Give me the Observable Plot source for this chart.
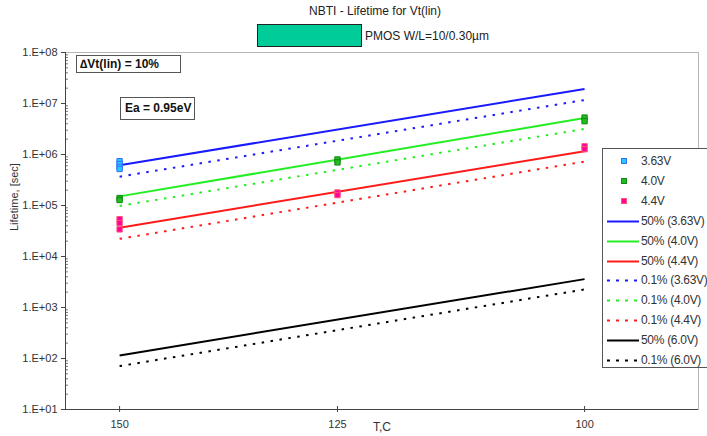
<!DOCTYPE html>
<html>
<head>
<meta charset="utf-8">
<script src="https://cdn.jsdelivr.net/npm/d3@7"></script>
<script src="https://cdn.jsdelivr.net/npm/@observablehq/plot@0.6"></script>
<style>
  html, body { margin: 0; padding: 0; background: #fff; }
  #wrap { position: relative; width: 707px; height: 436px; overflow: hidden; font-family: "Liberation Sans", Arial, sans-serif; color: #333; }
  #wrap svg.plot { position: absolute; left: 0; top: 0; }
  .ov { position: absolute; white-space: nowrap; }
  .box { position: absolute; border: 1px solid #555; background: #fff; font-weight: bold; font-size: 12px; color: #111; box-sizing: border-box; padding-left: 3px; line-height: 16px; white-space: nowrap; }
  #legend { position: absolute; left: 602px; top: 148px; width: 112px; height: 220px; border: 1px solid #555; background: #fff; box-sizing: border-box; }
  .lrow { position: absolute; left: 0; height: 20px; width: 110px; font-size: 12px; letter-spacing: -0.3px; color: #333; white-space: nowrap; }
  .lrow svg { position: absolute; left: 4px; top: 0; }
  .lrow span { position: absolute; left: 38px; top: 2px; white-space: nowrap; }
</style>
</head>
<body>
<div id="wrap"></div>
<script>
// ---------- data ----------
const titleText = "NBTI - Lifetime for Vt(lin)";
const subtitleText = "PMOS W/L=10/0.30\u00b5m";
const note1 = "\u2206Vt(lin) = 10%";
const note2 = "Ea = 0.95eV";
const xLabel = "T,C";
const yLabel = "Lifetime, [sec]";

const tickTemps = [150, 125, 100];
const tempRange = [156.7, 89.5];
const yMajor = [1e1, 1e2, 1e3, 1e4, 1e5, 1e6, 1e7, 1e8];

// fitted lines: value at 150C and 100C
const fitTemps = [150, 100];
const fit50_363 = [6.15e5, 1.93e7];
const fit50_40  = [1.51e5, 5.2e6];
const fit50_44  = [3.68e4, 1.16e6];
const fit01_363 = [3.68e5, 1.17e7];
const fit01_40  = [9.8e4, 3.17e6];
const fit01_44  = [2.22e4, 7.26e5];
const fit50_60  = [115, 3.6e3];
const fit01_60  = [71, 2.26e3];

// measured points
const ptsT_363 = [150, 150, 150, 150];
const ptsV_363 = [7.4e5, 6.5e5, 5.7e5, 5.2e5];
const ptsT_40  = [150, 150, 125, 125, 100, 100];
const ptsV_40  = [1.4e5, 1.28e5, 8.0e5, 7.0e5, 5.3e6, 4.5e6];
const ptsT_44  = [150, 150, 150, 125, 125, 100, 100];
const ptsV_44  = [5.4e4, 4.5e4, 3.4e4, 1.8e5, 1.6e5, 1.45e6, 1.27e6];

const pointSeries = [
  {label: "3.63V", T: ptsT_363, V: ptsV_363, fill: "#22ccff", stroke: "#3a6cff"},
  {label: "4.0V",  T: ptsT_40,  V: ptsV_40,  fill: "#22bb22", stroke: "#118811"},
  {label: "4.4V",  T: ptsT_44,  V: ptsV_44,  fill: "#ff0099", stroke: "#ff5577"}
];
const lineSeries = [
  {label: "50% (3.63V)", V: fit50_363, color: "#1a1aff", dash: null},
  {label: "50% (4.0V)",  V: fit50_40,  color: "#22ee22", dash: null},
  {label: "50% (4.4V)",  V: fit50_44,  color: "#ff1a1a", dash: null},
  {label: "0.1% (3.63V)", V: fit01_363, color: "#1a1aff", dash: "2.5,6.5"},
  {label: "0.1% (4.0V)",  V: fit01_40,  color: "#22ee22", dash: "2.5,6.5"},
  {label: "0.1% (4.4V)",  V: fit01_44,  color: "#ff1a1a", dash: "2.5,6.5"},
  {label: "50% (6.0V)",  V: fit50_60,  color: "#000000", dash: null},
  {label: "0.1% (6.0V)", V: fit01_60,  color: "#000000", dash: "2.5,6.5"}
];

// ---------- helpers ----------
const invT = t => 1000 / (t + 273.15);
const yMinor = [];
for (let e = 1; e < 8; e++) for (let m = 2; m <= 9; m++) yMinor.push(m * Math.pow(10, e));

const lineMarks = lineSeries.map(s => Plot.line(
  fitTemps.map((t, i) => ({T: t, v: s.V[i]})),
  {x: d => invT(d.T), y: "v", stroke: s.color, strokeWidth: 2,
   strokeDasharray: s.dash || undefined, strokeLinecap: "butt"}
));
const dotMarks = pointSeries.map(s => Plot.dot(
  s.T.map((t, i) => ({T: t, v: s.V[i]})),
  {x: d => invT(d.T), y: "v", symbol: "square", r: 3, fill: s.fill, stroke: s.stroke, strokeWidth: 1}
));

const chart = Plot.plot({
  width: 707, height: 436,
  marginLeft: 65, marginRight: 9, marginTop: 52, marginBottom: 27,
  x: {domain: tempRange.map(invT)},
  y: {type: "log", domain: [1e1, 1e8]},
  style: {fontFamily: "Liberation Sans, Arial, sans-serif", fontSize: "11px", color: "#333", background: "transparent"},
  marks: [
    Plot.frame({stroke: "#b5b5b5"}),
    Plot.axisY({ticks: yMajor, tickFormat: d => "1.E+0" + Math.round(Math.log10(d)), tickSize: 4, tickPadding: 4, label: null, stroke: "#444"}),
    Plot.axisY({ticks: yMinor, tickSize: 2.5, dx: 3, tickFormat: () => "", label: null, stroke: "#777"}),
    Plot.axisX({ticks: tickTemps.map(invT), tickFormat: d => String(Math.round(1000 / d - 273.15)), tickSize: 3, tickPadding: 8, label: null, stroke: "#444"}),
    Plot.axisX({ticks: tickTemps.map(invT), tickSize: 3, dy: -3, tickFormat: () => "", label: null, stroke: "#444"}),
    Plot.ruleX([invT(tempRange[0])], {stroke: "#444"}),
    Plot.ruleY([1e1], {stroke: "#444"}),
    ...lineMarks,
    ...dotMarks,
    Plot.text([yLabel], {frameAnchor: "left", dx: -51, rotate: -90, fontSize: 11, fill: "#333"}),
    Plot.text([xLabel], {frameAnchor: "bottom", dy: 21, fontSize: 12, fill: "#333"})
  ]
});
chart.classList.add("plot");
const wrap = document.getElementById("wrap");
wrap.appendChild(chart);

// ---------- header ----------
function addDiv(cls, css, text) {
  const d = document.createElement("div");
  d.className = cls;
  Object.assign(d.style, css);
  if (text != null) d.textContent = text;
  wrap.appendChild(d);
  return d;
}
addDiv("ov", {left: "0px", width: "750px", top: "4px", textAlign: "center", fontSize: "12px", color: "#222"}, titleText);
addDiv("ov", {left: "257px", top: "24px", width: "105px", height: "23px", background: "#00cc99", border: "1px solid #222", boxSizing: "border-box"});
addDiv("ov", {left: "365px", top: "29px", fontSize: "12px", color: "#222"}, subtitleText);
addDiv("box", {left: "76px", top: "55px", width: "105px", height: "18px"}, note1);
addDiv("box", {left: "120px", top: "97px", width: "75px", height: "23px", lineHeight: "21px", paddingLeft: "4px"}, note2);

// ---------- legend ----------
const legend = document.createElement("div");
legend.id = "legend";
wrap.appendChild(legend);
const ns = "http://www.w3.org/2000/svg";
let row = 0;
function legendRow(label, draw) {
  const r = document.createElement("div");
  r.className = "lrow";
  r.style.top = (3 + row * 19.9) + "px";
  const s = document.createElementNS(ns, "svg");
  s.setAttribute("width", 34); s.setAttribute("height", 20);
  draw(s);
  r.appendChild(s);
  const sp = document.createElement("span");
  sp.textContent = label;
  r.appendChild(sp);
  legend.appendChild(r);
  row++;
}
pointSeries.forEach(p => legendRow(p.label, s => {
  const rc = document.createElementNS(ns, "rect");
  rc.setAttribute("x", 14.5); rc.setAttribute("y", 6.5); rc.setAttribute("width", 5); rc.setAttribute("height", 5);
  rc.setAttribute("fill", p.fill); rc.setAttribute("stroke", p.stroke);
  s.appendChild(rc);
}));
lineSeries.forEach(l => legendRow(l.label, s => {
  const ln = document.createElementNS(ns, "line");
  ln.setAttribute("x1", 0); ln.setAttribute("x2", 32); ln.setAttribute("y1", 9.5); ln.setAttribute("y2", 9.5);
  ln.setAttribute("stroke", l.color); ln.setAttribute("stroke-width", 2);
  if (l.dash) ln.setAttribute("stroke-dasharray", "3,6");
  s.appendChild(ln);
}));
</script>
</body>
</html>
